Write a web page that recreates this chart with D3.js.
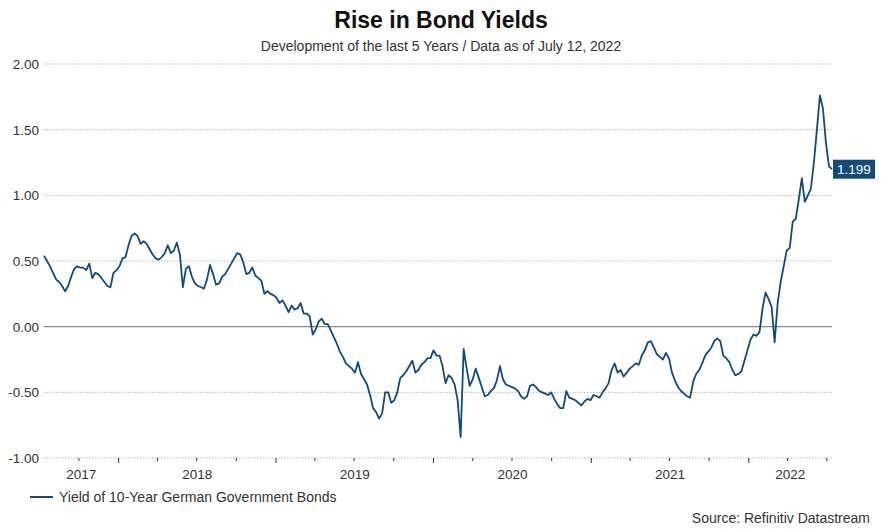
<!DOCTYPE html>
<html>
<head>
<meta charset="utf-8">
<script src="https://cdn.jsdelivr.net/npm/d3@7"></script>
<style>
  body { margin: 0; background: #fff; }
  text { font-family: "Liberation Sans", Arial, sans-serif; fill: #333; }
</style>
</head>
<body>
<div class="canva"></div>
<script>
// weekly readings, starting July 12, 2017
const startDate = new Date(2017, 6, 12);
const yields = [
  0.54, 0.50, 0.46, 0.41, 0.36, 0.34, 0.31, 0.27, 0.31, 0.38,
  0.44, 0.46, 0.45, 0.45, 0.43, 0.48, 0.37, 0.41, 0.40, 0.37,
  0.34, 0.31, 0.30, 0.41, 0.43, 0.46, 0.52, 0.53, 0.62, 0.69,
  0.71, 0.69, 0.63, 0.65, 0.63, 0.59, 0.55, 0.52, 0.51, 0.53,
  0.56, 0.62, 0.56, 0.58, 0.64, 0.55, 0.30, 0.44, 0.46, 0.38,
  0.33, 0.31, 0.30, 0.29, 0.36, 0.47, 0.40, 0.32, 0.33, 0.38,
  0.40, 0.44, 0.48, 0.52, 0.56, 0.55, 0.49, 0.40, 0.41, 0.45,
  0.39, 0.37, 0.35, 0.25, 0.27, 0.25, 0.24, 0.22, 0.18, 0.20,
  0.16, 0.11, 0.16, 0.13, 0.14, 0.18, 0.10, 0.10, 0.08, -0.06,
  -0.02, 0.04, 0.06, 0.02, 0.02, -0.03, -0.08, -0.13, -0.19, -0.23,
  -0.28, -0.30, -0.32, -0.35, -0.27, -0.36, -0.40, -0.44, -0.52, -0.62,
  -0.65, -0.70, -0.66, -0.50, -0.50, -0.58, -0.56, -0.50, -0.39, -0.37,
  -0.34, -0.30, -0.26, -0.35, -0.33, -0.29, -0.27, -0.24, -0.24, -0.18,
  -0.22, -0.22, -0.30, -0.43, -0.37, -0.39, -0.44, -0.56, -0.84, -0.17,
  -0.32, -0.45, -0.40, -0.32, -0.39, -0.46, -0.53, -0.52, -0.49, -0.47,
  -0.41, -0.30, -0.40, -0.44, -0.45, -0.46, -0.47, -0.49, -0.53, -0.55,
  -0.53, -0.45, -0.44, -0.46, -0.49, -0.50, -0.51, -0.52, -0.50, -0.55,
  -0.59, -0.62, -0.62, -0.49, -0.54, -0.55, -0.56, -0.58, -0.60, -0.57,
  -0.55, -0.56, -0.52, -0.53, -0.54, -0.50, -0.47, -0.43, -0.33, -0.28,
  -0.35, -0.33, -0.38, -0.35, -0.32, -0.30, -0.28, -0.29, -0.22, -0.18,
  -0.12, -0.11, -0.16, -0.21, -0.23, -0.25, -0.20, -0.24, -0.35, -0.41,
  -0.46, -0.49, -0.51, -0.53, -0.54, -0.42, -0.36, -0.33, -0.28, -0.22,
  -0.19, -0.16, -0.11, -0.09, -0.11, -0.22, -0.24, -0.27, -0.33, -0.37,
  -0.36, -0.34, -0.26, -0.18, -0.10, -0.06, -0.07, -0.04, 0.14, 0.26,
  0.21, 0.15, -0.12, 0.18, 0.34, 0.46, 0.58, 0.60, 0.80, 0.82,
  0.97, 1.13, 0.95, 1.00, 1.05, 1.25, 1.50, 1.76, 1.66, 1.40,
  1.22, 1.199
];
const yTicks = [-1, -0.5, 0, 0.5, 1, 1.5, 2];
const yearLabels = [2017, 2018, 2019, 2020, 2021, 2022];
const seriesName = "Yield of 10-Year German Government Bonds";

const dates = yields.map((v, i) => d3.timeDay.offset(startDate, 7 * i));
const data = yields.map((v, i) => ({date: dates[i], value: v}));

const width = 882, height = 529;
const plotLeft = 44, plotRight = 832, plotTop = 64, plotBottom = 458;
const blue = "#0f4c7d";

const svg = d3.select(".canva").append("svg")
    .attr("width", width)
    .attr("height", height);

const x = d3.scaleTime().domain(d3.extent(dates)).range([plotLeft, plotRight]);
const y = d3.scaleLinear().domain([-1, 2]).range([plotBottom, plotTop]);

// title
svg.append("text")
    .text("Rise in Bond Yields")
    .attr("x", 441).attr("y", 28)
    .attr("text-anchor", "middle")
    .attr("font-size", 23)
    .attr("font-weight", "bold")
    .style("fill", "#111");

svg.append("text")
    .text("Development of the last 5 Years / Data as of July 12, 2022")
    .attr("x", 441).attr("y", 51)
    .attr("text-anchor", "middle")
    .attr("font-size", 14);

// gridlines
svg.append("g")
    .selectAll("line")
    .data(yTicks)
    .join("line")
    .attr("x1", plotLeft).attr("x2", plotRight)
    .attr("y1", d => y(d)).attr("y2", d => y(d))
    .attr("stroke", d => d === 0 ? "#888" : "#b5b5b5")
    .attr("stroke-width", d => d === 0 ? 1.3 : 1)
    .attr("stroke-dasharray", d => d === 0 ? null : "1.5,1.5");

svg.append("g")
    .selectAll("text")
    .data(yTicks)
    .join("text")
    .text(d => d.toFixed(2))
    .attr("x", 39)
    .attr("y", d => y(d) + 5)
    .attr("text-anchor", "end")
    .attr("font-size", 13.5);

// x ticks: quarters, longer at new year
const quarters = d3.timeMonth.every(3).range(x.domain()[0], x.domain()[1]);
svg.append("g")
    .selectAll("line")
    .data(quarters)
    .join("line")
    .attr("x1", d => x(d)).attr("x2", d => x(d))
    .attr("y1", plotBottom)
    .attr("y2", d => d.getMonth() === 0 ? plotBottom + 5 : plotBottom + 3)
    .attr("stroke", "#333")
    .attr("stroke-width", 1);

const [d0, d1] = x.domain();
svg.append("g")
    .selectAll("text")
    .data(yearLabels)
    .join("text")
    .text(d => d)
    .attr("x", d => {
      const a = d3.max([new Date(d, 0, 1), d0]);
      const b = d3.min([new Date(d + 1, 0, 1), d1]);
      return (x(a) + x(b)) / 2;
    })
    .attr("y", 479)
    .attr("text-anchor", "middle")
    .attr("font-size", 13.5);

// series
const line = d3.line()
    .x(d => x(d.date))
    .y(d => y(d.value));

svg.append("path")
    .datum(data)
    .attr("d", line)
    .attr("fill", "none")
    .attr("stroke", blue)
    .attr("stroke-width", 1.8)
    .attr("stroke-linejoin", "round");

// last value label
const last = data[data.length - 1];
svg.append("rect")
    .attr("x", plotRight + 1).attr("y", y(last.value) - 9.5)
    .attr("width", 42).attr("height", 19)
    .attr("fill", blue);

svg.append("text")
    .text(last.value.toFixed(3))
    .attr("x", plotRight + 22).attr("y", y(last.value) + 5)
    .attr("text-anchor", "middle")
    .attr("font-size", 13.5)
    .style("fill", "#fff");

// legend
svg.append("line")
    .attr("x1", 30).attr("x2", 53)
    .attr("y1", 497).attr("y2", 497)
    .attr("stroke", blue)
    .attr("stroke-width", 2);

svg.append("text")
    .text(seriesName)
    .attr("x", 59).attr("y", 502)
    .attr("font-size", 14);

svg.append("text")
    .text("Source: Refinitiv Datastream")
    .attr("x", 870).attr("y", 523)
    .attr("text-anchor", "end")
    .attr("font-size", 14);
</script>
</body>
</html>
